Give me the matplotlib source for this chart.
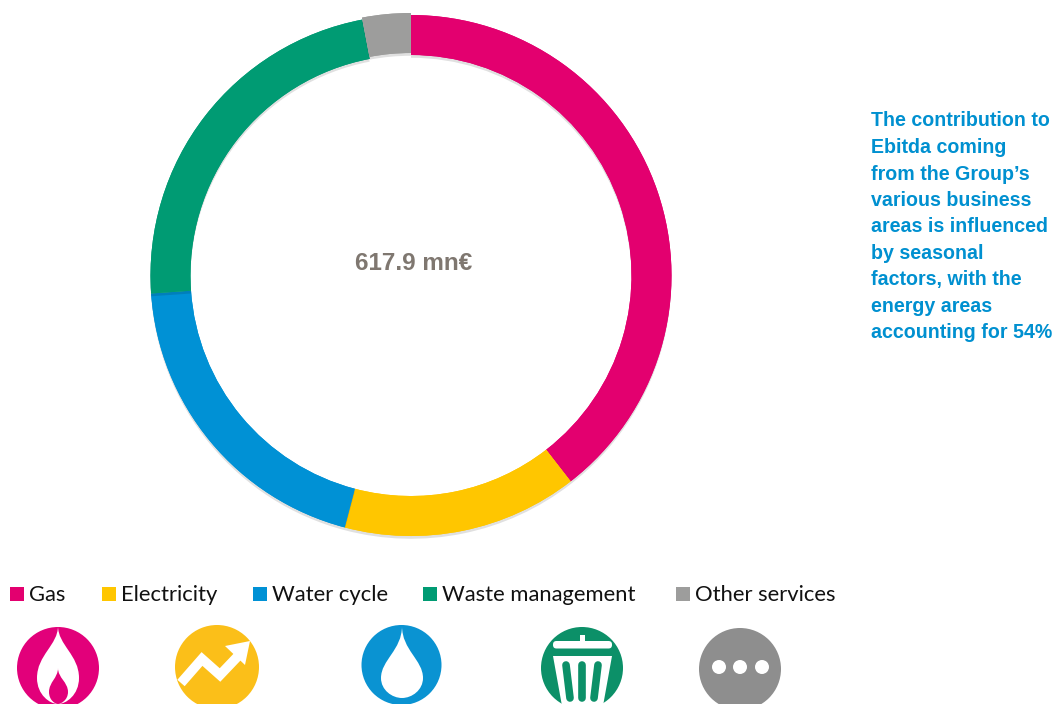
import matplotlib
matplotlib.use('Agg')
import matplotlib.pyplot as plt
import matplotlib.patheffects as pe
from matplotlib.patches import Circle, Polygon, Rectangle, FancyBboxPatch, PathPatch
from matplotlib.path import Path

# data
labels = ['Gas', 'Electricity', 'Water cycle', 'Waste management', 'Other services']
values = [39.5, 14.6, 19.8, 23.1, 3.0]
colors = ['#E3006F', '#FFC600', '#0091D5', '#009B73', '#9D9D9C']
explode = [0, 0, 0, 0, 2]
center_label = '617.9 mn€'
note_lines = ['The contribution to', 'Ebitda coming', 'from the Group’s', 'various business',
              'areas is influenced', 'by seasonal', 'factors, with the', 'energy areas',
              'accounting for 54%']
legend_x = [10, 102, 253, 423, 676]

W, H = 1054, 704
fig = plt.figure(figsize=(W / 100, H / 100), dpi=100)
fig.set_facecolor('white')

# donut, axes in pixels
ax = fig.add_axes([0, 0, 1, 1])
wedges, _ = ax.pie(values, colors=colors, explode=explode, startangle=90, counterclock=False,
                   center=(411, H - 275.5), radius=260.5,
                   wedgeprops=dict(width=40, edgecolor='none'))
ax.set_xlim(0, W)
ax.set_ylim(0, H)
ax.set_aspect('auto')
for w in wedges:
    w.set_path_effects([pe.withSimplePatchShadow(offset=(0, -2), shadow_rgbFace='black', alpha=0.12), pe.Normal()])

# overlay for text and icons, y goes down like the picture
ov = fig.add_axes([0, 0, 1, 1])
ov.set_xlim(0, W)
ov.set_ylim(H, 0)
ov.axis('off')
ov.patch.set_alpha(0)

ov.text(414, 263.5, center_label, ha='center', va='center', color='#7F7770',
        family='Liberation Sans', weight='bold', fontsize=17.5)

y = 121
for line in note_lines:
    ov.text(871, y, line, ha='left', va='center', color='#0090D0',
            family='Liberation Sans', weight='bold', fontsize=14.15)
    y += 26.5

# legend
for x, lab, c in zip(legend_x, labels, colors):
    ov.add_patch(Rectangle((x, 587), 14, 14, color=c, lw=0))
    ov.text(x + 19, 595, lab, ha='left', va='center', color='#111111', family='Lato', fontsize=15.8)

# icons
WHITE = '#FFFFFF'

# gas
gas = '#E2007A'
ov.add_patch(Circle((58, 668), 41, color=gas, lw=0))
ov.add_patch(PathPatch(Path([(58, 626), (58, 645), (37, 655), (37, 678), (37, 695), (50, 704), (58, 704),
                             (66, 704), (79, 695), (79, 678), (79, 655), (58, 645), (58, 626)],
                            [1, 4, 4, 4, 4, 4, 4, 4, 4, 4, 4, 4, 4]), fc=WHITE, lw=0))
ov.add_patch(PathPatch(Path([(58, 668), (58, 678), (49, 682), (49, 692), (49, 700), (55, 704), (58, 704),
                             (61, 704), (68, 700), (68, 692), (68, 682), (58, 678), (58, 668)],
                            [1, 4, 4, 4, 4, 4, 4, 4, 4, 4, 4, 4, 4]), fc=gas, lw=0))

# electricity
ov.add_patch(Circle((217, 667), 42, color='#FBBF19', lw=0))
ov.plot([181, 202, 220, 240], [683, 659, 675, 654], color=WHITE, lw=7, solid_joinstyle='miter', solid_capstyle='butt')
ov.add_patch(Polygon([(250, 641), (225, 646), (245, 665)], fc=WHITE, lw=0))

# water
ov.add_patch(Circle((401.5, 665), 40, color='#0A93D2', lw=0))
ov.add_patch(PathPatch(Path([(402, 626), (402, 650), (381, 660), (381, 678), (381, 690), (392, 698), (402, 698),
                             (412, 698), (423, 690), (423, 678), (423, 660), (402, 650), (402, 626)],
                            [1, 4, 4, 4, 4, 4, 4, 4, 4, 4, 4, 4, 4]), fc=WHITE, lw=0))

# waste
waste = '#0C9068'
ov.add_patch(Circle((582, 668), 41, color=waste, lw=0))
ov.add_patch(Rectangle((580, 635), 5, 7, fc=WHITE, lw=0))
ov.add_patch(FancyBboxPatch((553, 641), 59, 7.5, boxstyle='round,pad=0,rounding_size=3.5', fc=WHITE, lw=0))
ov.add_patch(Polygon([(553, 656), (612, 656), (603, 706), (562, 706)], fc=WHITE, lw=0))
for x0, x1 in [(566, 570), (582, 582), (598, 594)]:
    ov.plot([x0, x1], [665, 698], color=waste, lw=5.5, solid_capstyle='round')

# other
ov.add_patch(Circle((740, 669), 41, color='#8E8E8E', lw=0))
for x in [719, 740, 762]:
    ov.add_patch(Circle((x, 667), 7, color=WHITE, lw=0))

fig.savefig('out.png', dpi=100)
